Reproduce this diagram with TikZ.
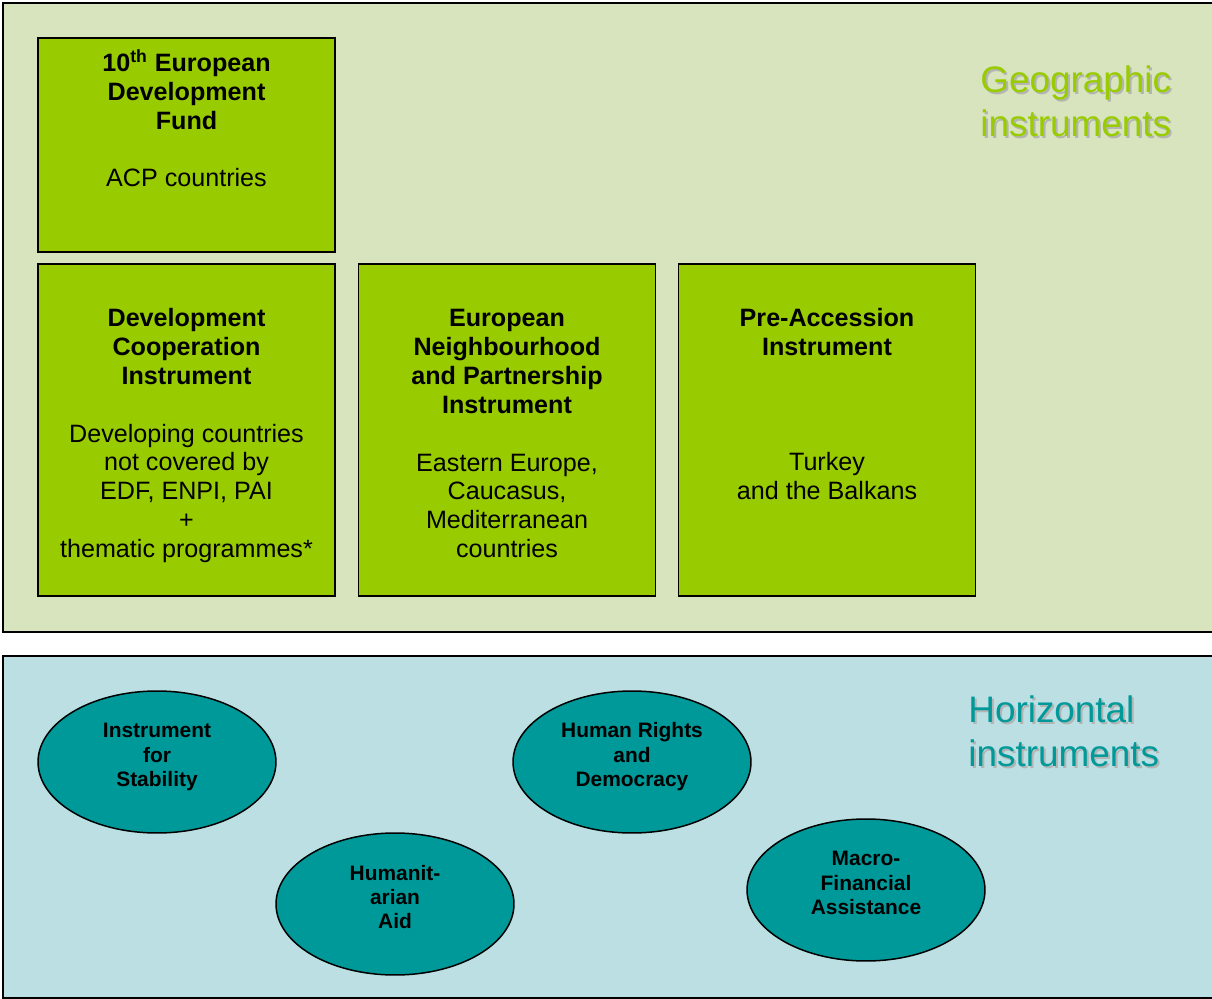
\documentclass[tikz,border=0pt]{standalone}
\usepackage{fontspec}
\setmainfont{Liberation Sans}
\usetikzlibrary{shapes.geometric}
\definecolor{geoBack}{HTML}{D7E4BD}
\definecolor{geoGreen}{HTML}{99CC00}
\definecolor{horBack}{HTML}{BBDFE2}
\definecolor{horTeal}{HTML}{009999}
\definecolor{shadowGray}{HTML}{B4B4B4}

\begin{document}
\begin{tikzpicture}[x=0.02cm,y=-0.02cm]
		\tikzstyle{PANEL} = [draw=black, line width=1.2pt]
		\tikzstyle{BOX} = [rectangle, draw=black, line width=0.85pt, fill=geoGreen, minimum width=5.94cm, inner sep=0pt]
		\tikzstyle{edfbox} = [BOX, minimum height=4.28cm]
		\tikzstyle{rowbox} = [BOX, minimum height=6.64cm]
		\tikzstyle{boxtext} = [anchor=north, align=center, inner sep=0pt, font=\fontsize{14.3pt}{16.44pt}\selectfont]
		\tikzstyle{ell} = [ellipse, draw=black, line width=0.85pt, fill=horTeal, minimum width=4.76cm, minimum height=2.84cm, inner sep=0pt]
		\tikzstyle{elltext} = [align=center, inner sep=0pt, font=\fontsize{11.9pt}{13.9pt}\selectfont\bfseries]
		\tikzstyle{title} = [anchor=north west, align=left, inner sep=0pt, font=\fontsize{21pt}{25pt}\selectfont]

		\useasboundingbox (0,0) rectangle (1212,999);

		% geographic instruments
		\draw[PANEL, fill=geoBack] (3,3) rectangle (1230,632);
		\node[title, text=shadowGray] (geoShadow) at (982,67) {Geographic\\instruments};
		\node[title, text=geoGreen] (geoTitle) at (980,65) {Geographic\\instruments};

		\node[edfbox] (edf) at (186.5,145) {};
		\node[boxtext] (edfT) at (186.5,49) {\textbf{10\textsuperscript{th} European}\\\textbf{Development}\\\textbf{Fund}\\[16.44pt]ACP countries};

		\node[rowbox] (dci) at (186.5,430) {};
		\node[boxtext] (dciT) at (186.5,308) {\textbf{Development}\\\textbf{Cooperation}\\\textbf{Instrument}\\[16.44pt]Developing countries\\not covered by\\EDF, ENPI, PAI\\+\\thematic programmes*};

		\node[rowbox] (enpi) at (507,430) {};
		\node[boxtext] (enpiT) at (507,309) {\textbf{European}\\\textbf{Neighbourhood}\\\textbf{and Partnership}\\\textbf{Instrument}\\[16.44pt]Eastern Europe,\\Caucasus,\\Mediterranean\\countries};

		\node[rowbox] (pai) at (827,430) {};
		\node[boxtext] (paiT) at (827,308) {\textbf{Pre-Accession}\\\textbf{Instrument}\\[49.32pt]Turkey\\and the Balkans};

		% horizontal instruments
		\draw[PANEL, fill=horBack] (3,656) rectangle (1230,998);
		\node[title, text=shadowGray] (horShadow) at (970,697) {Horizontal\\instruments};
		\node[title, text=horTeal] (horTitle) at (968,695) {Horizontal\\instruments};

		\node[ell] (ifs) at (157,762) {};
		\node[elltext] (ifsT) at (157,757) {Instrument\\for\\Stability};

		\node[ell] (hra) at (395,904) {};
		\node[elltext] (hraT) at (395,897) {Humanit-\\arian\\Aid};

		\node[ell] (hrd) at (632,762) {};
		\node[elltext] (hrdT) at (632,757) {Human Rights\\and\\Democracy};

		\node[ell] (mfa) at (866,890) {};
		\node[elltext] (mfaT) at (866,883) {Macro-\\Financial\\Assistance};
\end{tikzpicture}
\end{document}
